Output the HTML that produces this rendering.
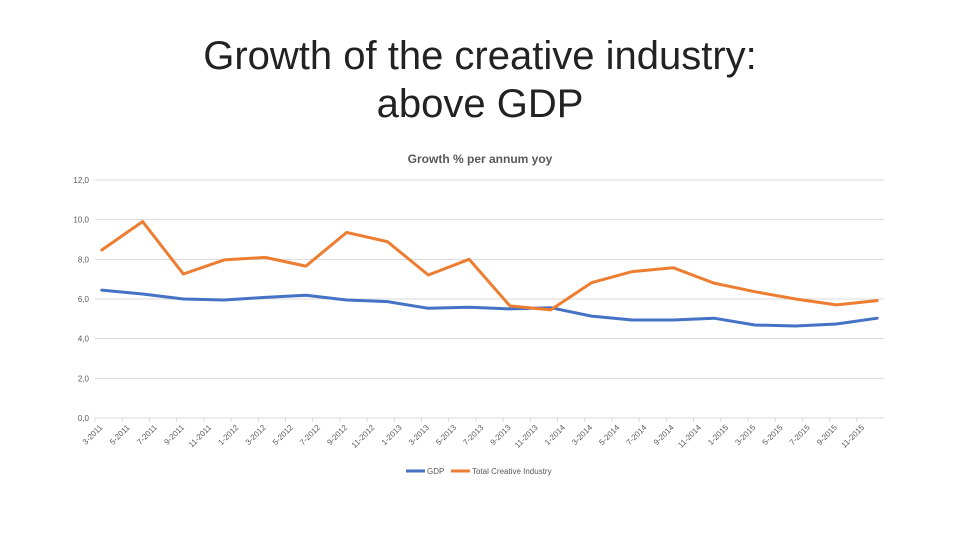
<!DOCTYPE html>
<html><head><meta charset="utf-8">
<style>
body{margin:0;background:#fff;width:960px;height:540px;overflow:hidden;font-family:"Liberation Sans",sans-serif;}
.t{position:absolute;left:0;width:960px;text-align:center;font-size:40px;color:#222;font-weight:300;}
</style></head><body>
<div class="t" style="top:34px">Growth of the creative industry:</div>
<div class="t" style="top:82px">above GDP</div>
<svg id="c" width="960" height="540" style="position:absolute;left:0;top:0"></svg>
<script>
const monthLabels=[];
for(let y=2011;y<=2015;y++)for(let m=1;m<=12;m++){if(y===2011&&m<3)continue;monthLabels.push(m+'-'+y);}
const pointMonthIdx=[0,3,6,9,12,15,18,21,24,27,30,33,36,39,42,45,48,51,54,57];
const gdp=[6.45,6.25,6.0,5.95,6.08,6.19,5.95,5.87,5.53,5.58,5.5,5.56,5.14,4.94,4.94,5.03,4.69,4.64,4.74,5.03];
const creative=[8.47,9.9,7.26,7.97,8.1,7.66,9.36,8.89,7.21,8.0,5.65,5.45,6.82,7.38,7.58,6.8,6.37,6.0,5.7,5.92];
const yTicks=[0,2,4,6,8,10,12];
const yTickLabels=['0,0','2,0','4,0','6,0','8,0','10,0','12,0'];
const svg=document.getElementById('c');
const NS='http://www.w3.org/2000/svg';
const X0=95,X1=884,Y0=418,Y1=180,YMAX=12;
const nM=monthLabels.length;
const xm=i=>X0+(X1-X0)*(i+0.5)/nM;
const xt=i=>X0+(X1-X0)*i/nM;
const y=v=>Y0-(Y0-Y1)*v/YMAX;
function mk(t,a){const e=document.createElementNS(NS,t);for(const k in a)e.setAttribute(k,a[k]);svg.appendChild(e);return e;}
let tt=mk('text',{x:480,y:163,'text-anchor':'middle','font-size':'12','fill':'#595959','font-weight':'bold'});
tt.textContent='Growth % per annum yoy';


yTicks.forEach((v,i)=>{
 const l=mk('line',{x1:X0,x2:X1,y1:y(v),y2:y(v),stroke:'#d9d9d9','stroke-width':1});
 
 
 const t=mk('text',{x:89,y:y(v)+3,'text-anchor':'end','font-size':'8','fill':'#595959'});
 t.textContent=yTickLabels[i];
 
 
});
for(let i=0;i<nM;i+=2){
 const tk=mk('line',{x1:xt(i),x2:xt(i),y1:Y0,y2:Y0+4,stroke:'#d9d9d9'});
 
 
 const tx=xt(i)+8,ty=Y0+10;
 const t=mk('text',{x:tx,y:ty,'text-anchor':'end','font-size':'8','fill':'#595959',transform:`rotate(-45 ${tx} ${ty})`});
 t.textContent=monthLabels[i];
 
 
}
function series(vals,color,name){
 const d=vals.map((v,i)=>(i?'L':'M')+xm(pointMonthIdx[i]).toFixed(1)+' '+y(v).toFixed(1)).join(' ');
 const p=mk('path',{d:d,fill:'none',stroke:color,'stroke-width':3,'stroke-linejoin':'round','stroke-linecap':'round'});
 
 
}
series(gdp,'#4472c4','gdp-line');
series(creative,'#ed7d31','creative-industry-line');
function leg(x,color,label,name){
 const l=mk('line',{x1:x,x2:x+19,y1:471,y2:471,stroke:color,'stroke-width':3});
 
 
 const t=mk('text',{x:x+21,y:474,'font-size':'8','fill':'#595959'});
 t.textContent=label;
 
 
}
leg(406,'#4472c4','GDP','legend-gdp');
leg(451,'#ed7d31','Total Creative Industry','legend-creative');
</script>
</body></html>
